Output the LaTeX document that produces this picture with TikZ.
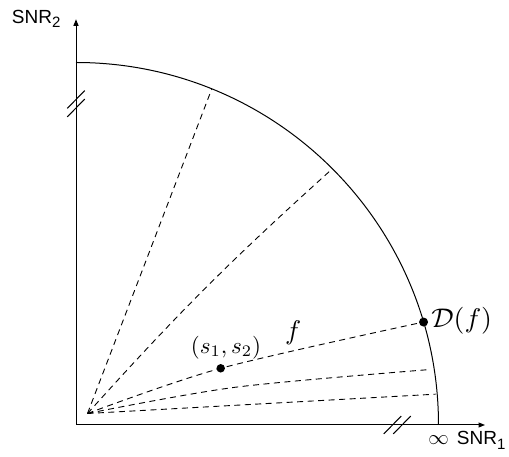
\documentclass[tikz,border=0pt]{standalone}
\usepackage{fontspec}
\setsansfont{Liberation Sans}
\usetikzlibrary{arrows.meta}
\begin{document}
\begin{tikzpicture}[x=1pt,y=1pt,
  axis/.style={line width=1pt, -{Triangle[length=6.5pt,width=5pt]}},
  ray/.style={line width=0.9pt, dash pattern=on 6pt off 4.5pt},
  brk/.style={line width=1pt},
  dotmark/.style={circle, fill, inner sep=0pt, minimum size=#1},
  snr/.style={font=\sffamily\fontsize{19}{19}\selectfont, inner sep=0pt, anchor=base west},
]
\useasboundingbox (0,0) rectangle (509,457);
% axes
\coordinate (A) at (76,32);
\coordinate (Ytip) at (76,437.7);
\coordinate (Xtip) at (485,32);
\draw[axis] (A) -- (Ytip);
\draw[axis] (A) -- (Xtip);
% infinity arc
\coordinate (ArcR) at ([shift={(0:362.5)}]A);
\draw[line width=1pt] (ArcR) arc[start angle=0, end angle=90, radius=362.5];
% axis breaks
\coordinate (bv1) at (76,357.5);
\coordinate (bv2) at (76,349);
\coordinate (bh1) at (392.5,32);
\coordinate (bh2) at (402,32);
\foreach \b in {bv1,bv2,bh1,bh2}{
  \draw[brk] ([shift={(-8.7,-8.9)}]\b) -- ([shift={(8.7,8.9)}]\b);
}
% rays
\coordinate (O) at (87.5,43.5);
\coordinate (E1) at ([shift={(68:362)}]A);
\coordinate (E2) at ([shift={(45:360)}]A);
\coordinate (D) at ([shift={(16.5:362.5)}]A);
\coordinate (M4) at (235,69.7);
\coordinate (E4) at ([shift={(8.9:359)}]A);
\coordinate (E5) at ([shift={(4.9:361)}]A);
\coordinate (Sp) at (220.7,88.7);
\draw[ray] (O) -- (E1);
\draw[ray] (O) to[bend left=3] (E2);
\draw[ray] plot[smooth] coordinates {(O) (Sp) (D)};
\draw[ray] plot[smooth] coordinates {(O) (M4) (E4)};
\draw[ray] (O) -- (E5);
% points and labels
\node[dotmark=8.5pt] (S) at (Sp) {};
\node[dotmark=9pt] (Dd) at (D) {};
\node[inner sep=0pt] (Sl) at (226,109.7) {\scalebox{2.3}{$(s_1,s_2)$}};
\node[inner sep=0pt] (fl) at (293.3,124.2) {\scalebox{2.7}{$f$}};
\node[anchor=west, inner sep=0pt] (Dl) at ([shift={(7.5,1)}]D) {\scalebox{2.8}[2.7]{$\mathcal{D}(f)$}};
\node[inner sep=0pt] (inf) at (438.5,17) {\scalebox{2.05}{$\infty$}};
\node[snr] (ylab) at (11.7,433.7) {SNR\raisebox{-3.8pt}{\fontsize{15}{15}\selectfont 2}};
\node[snr] (xlab) at (456.7,12) {SNR\raisebox{-5pt}{\fontsize{15}{15}\selectfont 1}};
\end{tikzpicture}
\end{document}
